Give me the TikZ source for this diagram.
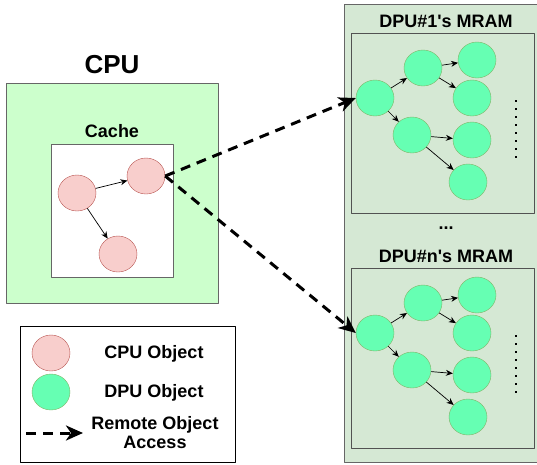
\documentclass[tikz,border=0pt]{standalone}
\usepackage{fontspec}
\setmainfont{Liberation Sans}[Ligatures=TeXOff]
\usetikzlibrary{arrows.meta,shapes.geometric,positioning}

\begin{document}
\begin{tikzpicture}[
    x=1pt,y=-1pt,
    line join=round,
    %styles
    label text/.style={font=\fontsize{18}{19}\selectfont\bfseries,anchor=base,inner sep=0pt,align=center},
    title text/.style={font=\fontsize{26}{28}\selectfont\bfseries,anchor=base,inner sep=0pt},
    cpu obj/.style={ellipse,draw=cpuline,fill=cpufill,minimum width=38pt,minimum height=36pt,inner sep=0pt},
    dpu obj/.style={ellipse,draw=dpuline,fill=dpufill,minimum width=38pt,minimum height=36pt,inner sep=0pt},
    box/.style={line width=1pt},
    link/.style={-{Stealth[length=7pt,width=6pt]},line width=0.7pt},
    remote access/.style={-{Stealth[length=17pt,width=15pt,inset=5pt]},line width=3pt,dash pattern=on 10pt off 7pt},
  ]
  %colors
  \definecolor{cpubox}{HTML}{CCFFCC}
  \definecolor{dpubox}{HTML}{D5E8D4}
  \definecolor{boxline}{HTML}{666666}
  \definecolor{cpufill}{HTML}{F8CECC}
  \definecolor{cpuline}{HTML}{B85450}
  \definecolor{dpufill}{HTML}{66FFB3}
  \definecolor{dpuline}{HTML}{82B366}
  \useasboundingbox (0,0) rectangle (537,464);
  \clip (0,0) rectangle (537,464);

  % CPU side
  \node[title text] (cpu) at (112,73) {CPU};
  \draw[box,draw=boxline,fill=cpubox] (6,83) rectangle (218,303);
  \node[label text] (cache) at (112,137) {Cache};
  \draw[box,draw=boxline,fill=white] (51,144) rectangle (173,277);
  \node[cpu obj] (c1) at (77,193) {};
  \node[cpu obj] (c2) at (146,176) {};
  \node[cpu obj] (c3) at (118,254) {};
  \draw[link] (c1) -- (c2);
  \draw[link] (c1) -- (c3);

  % DPU side
  \draw[box,draw=boxline,fill=dpubox] (344,4) rectangle (545,462);
  \node[label text] (dots) at (446,229) {...};
  \foreach \k/\dy in {1/0,n/235}{
    \node[label text] (mram\k) at (446,{27+\dy}) {DPU\#\k's MRAM};
    \draw[box,draw=boxline!80!black,fill=dpubox] (351,{33+\dy}) rectangle (534,{213+\dy});
    \node[dpu obj] (g\k a) at (375,{98+\dy}) {};
    \node[dpu obj] (g\k b) at (423,{68+\dy}) {};
    \node[dpu obj] (g\k c) at (477,{60+\dy}) {};
    \node[dpu obj] (g\k d) at (472,{98+\dy}) {};
    \node[dpu obj] (g\k e) at (412,{135+\dy}) {};
    \node[dpu obj] (g\k f) at (472,{140+\dy}) {};
    \node[dpu obj] (g\k g) at (468,{182+\dy}) {};
    \draw[link] (g\k a) -- (g\k b);
    \draw[link] (g\k a) -- (g\k e);
    \draw[link] (g\k b) -- (g\k c);
    \draw[link] (g\k b) -- (g\k d);
    \draw[link] (g\k e) -- (g\k f);
    \draw[link] (g\k e) -- (g\k g);
    \draw[line width=2.2pt,dash pattern=on 2pt off 6pt] (516,{100+\dy}) coordinate (top\k) -- (516,{160+\dy}) coordinate (bot\k);
    \draw[remote access] (c2.east) -- (g\k a.west);
  }

  % legend
  \draw[line width=0.8pt,fill=white] (20,326) rectangle (235,462);
  \node[cpu obj] (lcpu) at (51,353) {};
  \node[dpu obj] (ldpu) at (51,392) {};
  \coordinate (la) at (26,433);
  \coordinate (lb) at (83,433);
  \draw[remote access] (la) -- (lb);
  \node[label text] (tcpu) at (154,358) {CPU Object};
  \node[label text] (tdpu) at (154,397) {DPU Object};
  % base of a two-line node is the last line
  \node[label text] (tremote) at (155,448) {Remote Object\\Access};
\end{tikzpicture}
\end{document}
